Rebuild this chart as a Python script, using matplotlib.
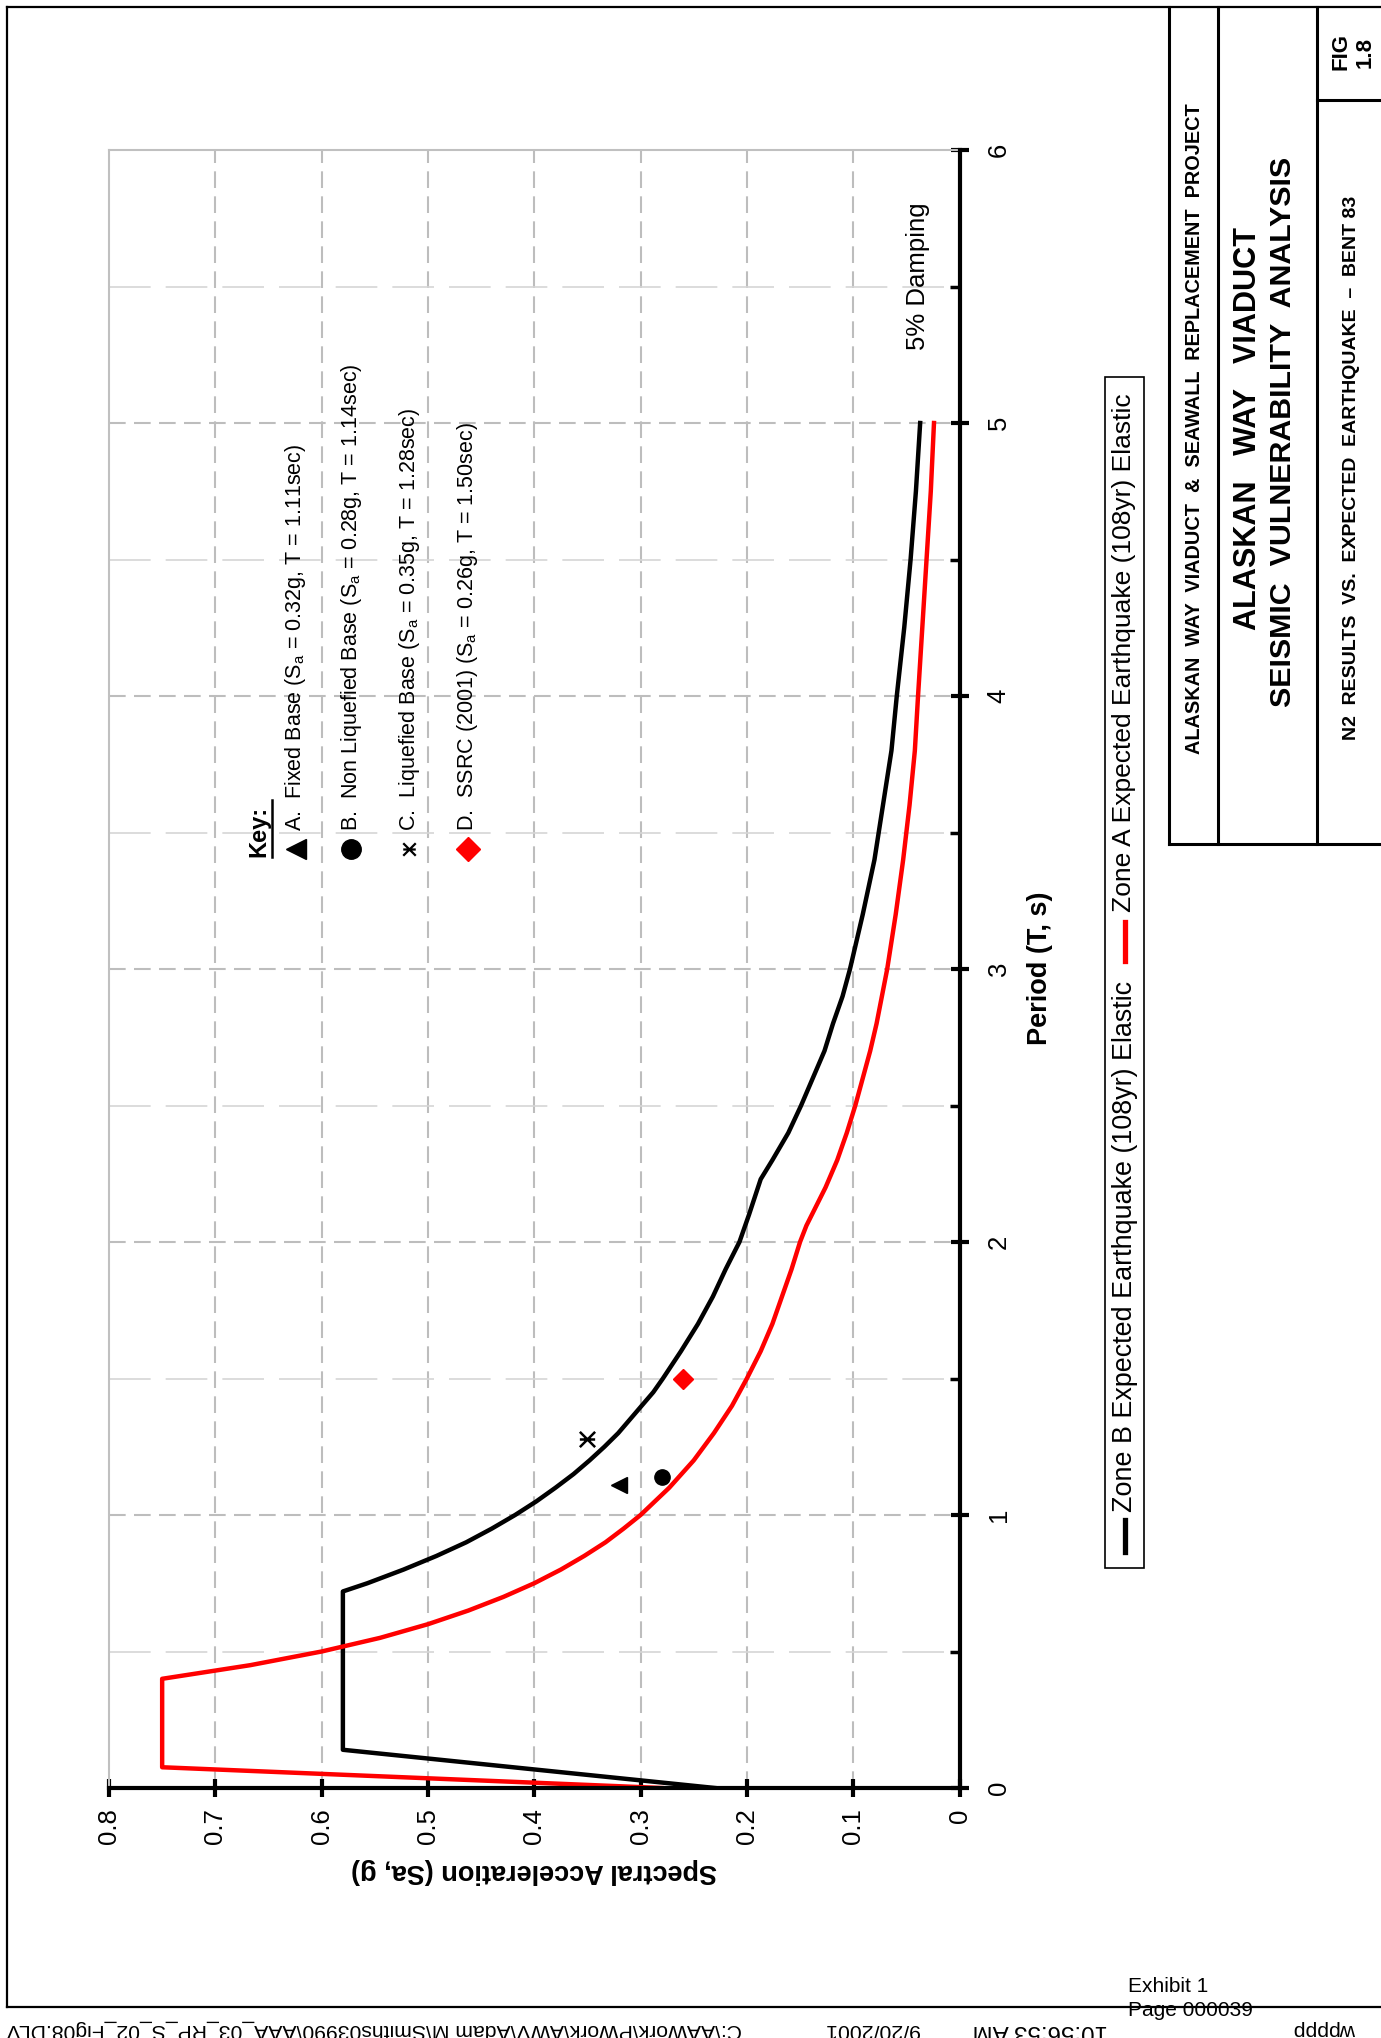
import matplotlib
matplotlib.use("Agg")
import matplotlib.pyplot as plt
from matplotlib.lines import Line2D
from matplotlib.patches import Rectangle
from matplotlib.path import Path

plt.rcParams['font.family'] = ['Liberation Sans', 'DejaVu Sans']
plt.rcParams['mathtext.default'] = 'regular'
NARROW = ['Liberation Sans Narrow', 'Liberation Sans', 'DejaVu Sans']

# expected earthquake (108yr) elastic spectra: period (s) / Sa (g)
zone_b_period = [0.00, 0.14, 0.72, 0.75, 0.80, 0.85, 0.90, 0.95, 1.00, 1.05, 1.10, 1.15,
                 1.20, 1.25, 1.30, 1.35, 1.40, 1.45, 1.50, 1.60, 1.70, 1.80, 1.90, 2.00,
                 2.10, 2.23, 2.30, 2.40, 2.50, 2.60, 2.70, 2.80, 2.90, 3.00, 3.20, 3.40,
                 3.60, 3.80, 4.00, 4.25, 4.50, 4.75, 5.00]
zone_b_sa = [0.230, 0.580, 0.580, 0.557, 0.523, 0.492, 0.464, 0.440, 0.418, 0.398, 0.380, 0.363,
             0.348, 0.334, 0.321, 0.310, 0.299, 0.288, 0.279, 0.262, 0.246, 0.232, 0.220, 0.207,
             0.198, 0.187, 0.176, 0.161, 0.149, 0.138, 0.127, 0.119, 0.110, 0.103, 0.091, 0.080,
             0.072, 0.064, 0.059, 0.052, 0.046, 0.041, 0.037]

zone_a_period = [0.00, 0.076, 0.40, 0.45, 0.50, 0.55, 0.60, 0.65, 0.70, 0.75, 0.80, 0.85,
                 0.90, 0.95, 1.00, 1.10, 1.20, 1.30, 1.40, 1.50, 1.60, 1.70, 1.80, 1.90,
                 2.00, 2.06, 2.20, 2.30, 2.40, 2.50, 2.60, 2.70, 2.80, 2.90, 3.00, 3.20,
                 3.40, 3.60, 3.80, 4.00, 4.25, 4.50, 4.75, 5.00]
zone_a_sa = [0.280, 0.750, 0.750, 0.667, 0.600, 0.545, 0.500, 0.462, 0.429, 0.400, 0.375, 0.353,
             0.333, 0.316, 0.300, 0.273, 0.250, 0.231, 0.214, 0.200, 0.187, 0.176, 0.167, 0.158,
             0.150, 0.144, 0.126, 0.115, 0.106, 0.098, 0.091, 0.084, 0.078, 0.073, 0.068, 0.060,
             0.053, 0.047, 0.042, 0.039, 0.035, 0.031, 0.027, 0.024]

# N2 results
result_ids = ['A.', 'B.', 'C.', 'D.']
result_names = ['Fixed Base', 'Non Liquefied Base', 'Liquefied Base', 'SSRC (2001)']
result_sa = [0.32, 0.28, 0.35, 0.26]
result_period = [1.11, 1.14, 1.28, 1.50]

sa_ticks = [0.8, 0.7, 0.6, 0.5, 0.4, 0.3, 0.2, 0.1, 0.0]
sa_ticklabels = ['0.8', '0.7', '0.6', '0.5', '0.4', '0.3', '0.2', '0.1', '0']
period_ticks = [0, 1, 2, 3, 4, 5, 6]
period_ticklabels = ['0', '1', '2', '3', '4', '5', '6']
period_minor = [0.5, 1.5, 2.5, 3.5, 4.5, 5.5]

legend_labels = ['Zone B Expected Earthquake (108yr) Elastic',
                 'Zone A Expected Earthquake (108yr) Elastic']

W, H = 1381, 2038


def fx(x):
    return x / W


def fy(y):
    return 1 - y / H


# star marker: an x with a bar through it
star = Path([(-1, -1), (1, 1), (-1, 1), (1, -1), (-1, 0), (1, 0)],
            [Path.MOVETO, Path.LINETO, Path.MOVETO, Path.LINETO, Path.MOVETO, Path.LINETO])
marker_styles = [dict(marker='<', ms=12, color='black'),
                 dict(marker='o', ms=11, color='black'),
                 dict(marker=star, ms=11, color='black', mfc='none', mew=1.8),
                 dict(marker='D', ms=10, color='red')]
key_styles = [dict(marker='<', ms=15, color='black'),
              dict(marker='o', ms=14, color='black'),
              dict(marker=star, ms=9, color='black', mfc='none', mew=1.6),
              dict(marker='D', ms=12, color='red')]

fig = plt.figure(figsize=(W / 100, H / 100), dpi=100)

# period runs up the page, Sa runs right-to-left
ax = fig.add_axes([fx(109), fy(1788), (959.5 - 109) / W, (1788 - 150) / H])
ax.set_xlim(0.8, 0)
ax.set_ylim(0, 6)

for s in sa_ticks[1:-1]:
    ax.axvline(s, color='#bdbdbd', lw=1.5, ls=(0, (8, 4)), zorder=1)
for t in period_ticks[1:-1]:
    ax.axhline(t, color='#bdbdbd', lw=1.5, ls=(0, (8, 4)), zorder=1)
for t in period_minor:
    ax.axhline(t, color='#d6d6d6', lw=1.2, ls=(0, (25, 9)), zorder=1)

ax.plot(zone_b_sa, zone_b_period, color='black', lw=3.2, zorder=3)
ax.plot(zone_a_sa, zone_a_period, color='red', lw=3.2, zorder=3)

for sa, t, st in zip(result_sa, result_period, marker_styles):
    ax.plot([sa], [t], ls='none', zorder=4, **st)

for side in ['top', 'left']:
    ax.spines[side].set_color('#c0c0c0')
    ax.spines[side].set_linewidth(1.5)
for side in ['bottom', 'right']:
    ax.spines[side].set_color('black')
    ax.spines[side].set_linewidth(3)
    ax.spines[side].set_zorder(5)

ax.xaxis.set_ticks_position('bottom')
ax.set_xticks(sa_ticks)
ax.set_xticklabels(sa_ticklabels, rotation=90, fontsize=18.5)
ax.yaxis.tick_right()
ax.set_yticks(period_ticks)
ax.set_yticklabels(period_ticklabels, rotation=90, fontsize=18.5, va='center')
ax.set_yticks(period_minor, minor=True)
ax.tick_params(axis='x', direction='inout', length=13, width=3, pad=8)
ax.tick_params(axis='y', which='major', direction='inout', length=13, width=3, pad=13)
ax.tick_params(axis='y', which='minor', direction='in', length=7, width=2.5)

fig.text(fx(534), fy(1871), 'Spectral Acceleration (Sa, g)', rotation=180,
         ha='center', va='center', fontsize=19.5, fontweight='bold')
fig.text(fx(1040), fy(968), 'Period (T, s)', rotation=90,
         ha='center', va='center', fontsize=19.5, fontweight='bold')
fig.text(fx(918), fy(276), '5% Damping', rotation=90,
         ha='center', va='center', fontsize=18.5)

# key
fig.text(fx(259), fy(857), 'Key:', rotation=90, rotation_mode='anchor',
         ha='left', va='center', fontsize=17, fontweight='bold')
fig.add_artist(Line2D([fx(272), fx(272)], [fy(857), fy(800)], color='black', lw=1.8))
key_x = [296, 351, 409, 468]
for i in range(4):
    label = (f"{result_ids[i]}  {result_names[i]} (S$_a$ = {result_sa[i]:.2f}g, "
             f"T = {result_period[i]:.2f}sec)")
    fig.text(fx(key_x[i]), fy(831), label, rotation=90, rotation_mode='anchor',
             ha='left', va='center', fontsize=15.5)
    fig.add_artist(Line2D([fx(key_x[i])], [fy(849)], ls='none', **key_styles[i]))

# texts whose length along the page is set after a first layout pass
fitted = []

# series legend
fig.add_artist(Rectangle((fx(1105), fy(1568)), 39 / W, (1568 - 377) / H,
                         transform=fig.transFigure, fill=False, ec='black', lw=1.2))
for color, y0, y1, ytxt, length, label in [('black', 1552, 1520, 1512, 533, legend_labels[0]),
                                           ('red', 961, 922, 912, 520, legend_labels[1])]:
    fig.add_artist(Line2D([fx(1124.5), fx(1124.5)], [fy(y0), fy(y1)], color=color, lw=3.8))
    t = fig.text(fx(1124.5), fy(ytxt), label, rotation=90, rotation_mode='anchor',
                 ha='left', va='center', fontsize=18.5)
    fitted.append((t, length))

# page frame and title block
frame_lw = 1.6
for (x0, y0, x1, y1) in [(7, 7, 1381, 7), (7, 7, 7, 2007), (7, 2007, 1381, 2007)]:
    fig.add_artist(Line2D([fx(x0), fx(x1)], [fy(y0), fy(y1)], color='black', lw=frame_lw))
for (x0, y0, x1, y1) in [(1169, 7, 1169, 844), (1218, 7, 1218, 844), (1317, 7, 1317, 844),
                         (1169, 844, 1381, 844), (1317, 100, 1381, 100)]:
    fig.add_artist(Line2D([fx(x0), fx(x1)], [fy(y0), fy(y1)], color='black', lw=2.2))

title_lines = [(1194, 429, 650, 17, 'ALASKAN  WAY  VIADUCT  &  SEAWALL  REPLACEMENT  PROJECT'),
               (1248, 429, 403, 24, 'ALASKAN   WAY   VIADUCT'),
               (1283, 432, 552, 24, 'SEISMIC  VULNERABILITY  ANALYSIS'),
               (1351, 468, 546, 17, 'N2  RESULTS  VS.  EXPECTED  EARTHQUAKE  \u2013  BENT 83')]
for x, y, length, size, s in title_lines:
    t = fig.text(fx(x), fy(y), s, rotation=90, ha='center', va='center',
                 fontsize=size, fontweight='bold', family=NARROW)
    fitted.append((t, length))
fig.text(fx(1341), fy(52), 'FIG', rotation=90, ha='center', va='center',
         fontsize=16, fontweight='bold', family=NARROW)
fig.text(fx(1365), fy(52), '1.8', rotation=90, ha='center', va='center',
         fontsize=16, fontweight='bold', family=NARROW)

# sheet footer
fig.text(fx(1128), fy(1987), 'Exhibit 1', ha='left', va='center', fontsize=15, family=NARROW)
fig.text(fx(1128), fy(2010), 'Page 000039', ha='left', va='center', fontsize=15, family=NARROW)
footer = [(374, 734, r'C:\AAWork\PWork\AWV\Adam M\Smiths03990\AAA_03_RP_S_02_Fig08.DLV'),
          (872, 95, '9/20/2001'), (1040, 135, '10:56:53 AM'), (1325, 62, 'wpppp')]
for x, length, s in footer:
    t = fig.text(fx(x), fy(2020), s, rotation=180, ha='center', va='top', fontsize=13,
                 family=NARROW)
    fitted.append((t, length))

renderer = fig.canvas.get_renderer()
for t, length in fitted:
    bb = t.get_window_extent(renderer)
    cur = bb.height if abs(t.get_rotation() % 180 - 90) < 1 else bb.width
    t.set_fontsize(t.get_fontsize() * length / cur)

fig.savefig('out.png', dpi=100, facecolor='white')
